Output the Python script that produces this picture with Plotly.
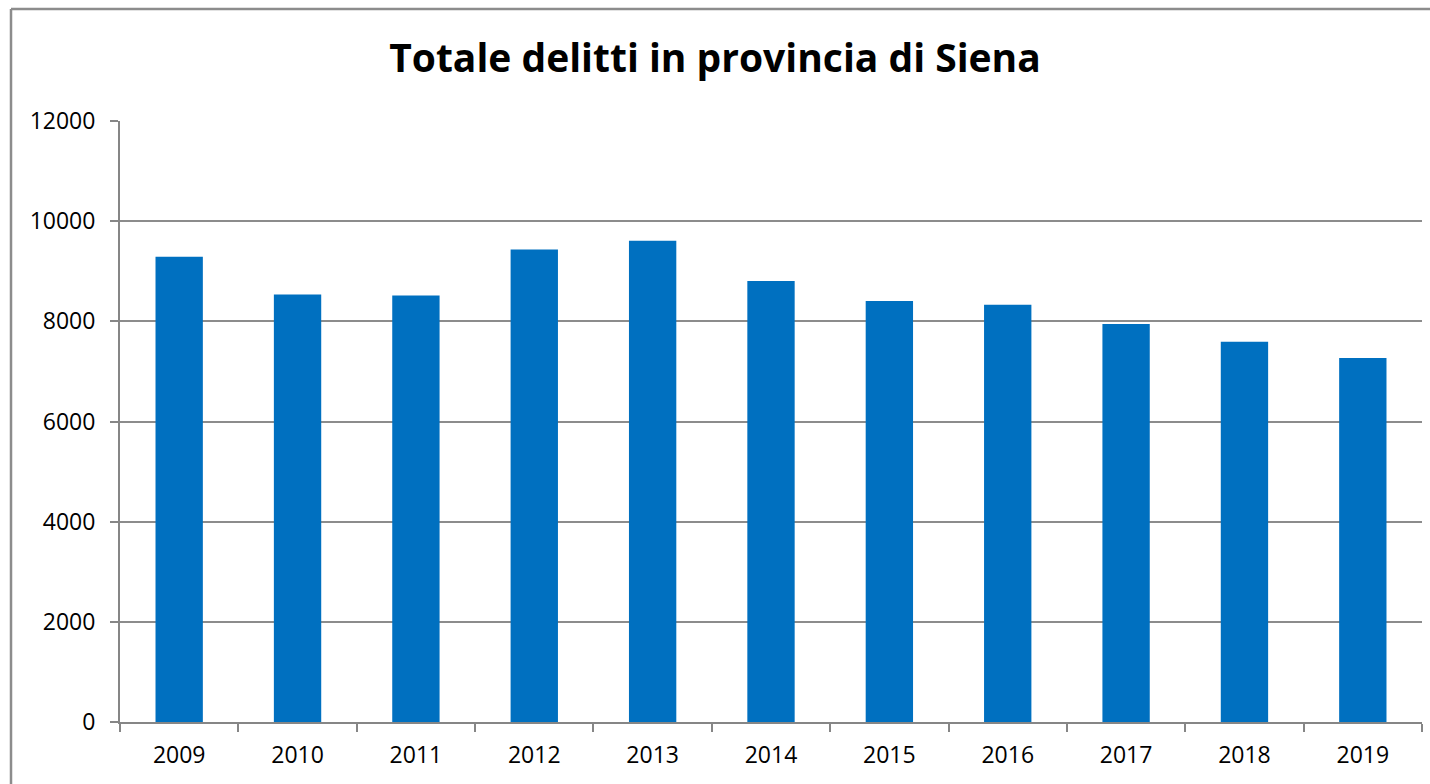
import plotly.graph_objects as go

years = ["2009", "2010", "2011", "2012", "2013", "2014", "2015", "2016", "2017", "2018", "2019"]
delitti = [9288, 8538, 8518, 9435, 9607, 8803, 8404, 8330, 7945, 7592, 7267]
y_ticks = [0, 2000, 4000, 6000, 8000, 10000, 12000]

W, H = 1430, 784
L, R, T, B = 120, 8, 121, 62
pw, ph = W - L - R, H - T - B

fig = go.Figure(go.Bar(x=years, y=delitti, marker=dict(color="#0070C0", line=dict(width=0)), width=0.4))

fig.update_layout(
    width=W, height=H,
    margin=dict(l=L, r=R, t=T, b=B),
    paper_bgcolor="white", plot_bgcolor="white",
    font=dict(family="Open Sans", color="black", size=23),
    title=dict(text="<b>Totale delitti in provincia di Siena</b>", x=0.5, xanchor="center",
               y=1 - 58 / H, yanchor="middle", font=dict(size=39, family="Open Sans", color="black")),
    showlegend=False,
    bargap=0.6,
)
fig.update_xaxes(
    type="category", showline=True, linecolor="#868686", linewidth=2,
    ticks="outside", tickson="boundaries", ticklen=8, tickcolor="#868686", tickwidth=2,
    showgrid=False, tickfont=dict(size=23), ticklabelstandoff=11,
)
fig.update_yaxes(
    range=[0, 12000], tickvals=y_ticks, ticktext=[str(v) for v in y_ticks],
    showline=True, linecolor="#868686", linewidth=2,
    ticks="outside", ticklen=8, tickcolor="#868686", tickwidth=2,
    showgrid=True, gridcolor="#8C8C8C", gridwidth=1.5, zeroline=False,
    tickfont=dict(size=23), ticklabelstandoff=10,
)
# outer chart-area frame (top and left edges visible in the crop)
top_y = 1 + (T - 9) / ph
left_x = (11 - L) / pw
fig.add_shape(type="line", xref="paper", yref="paper",
              x0=left_x, x1=(W + 20 - L) / pw, y0=top_y, y1=top_y,
              line=dict(color="#8C8C8C", width=2.5), layer="below")
fig.add_shape(type="line", xref="paper", yref="paper",
              x0=left_x, x1=left_x, y0=-(B + 20) / ph, y1=top_y,
              line=dict(color="#8C8C8C", width=2.5), layer="below")

fig.write_html("out.html", config={"displayModeBar": False},
               post_script="document.body.style.margin='0';document.body.style.overflow='hidden';")
